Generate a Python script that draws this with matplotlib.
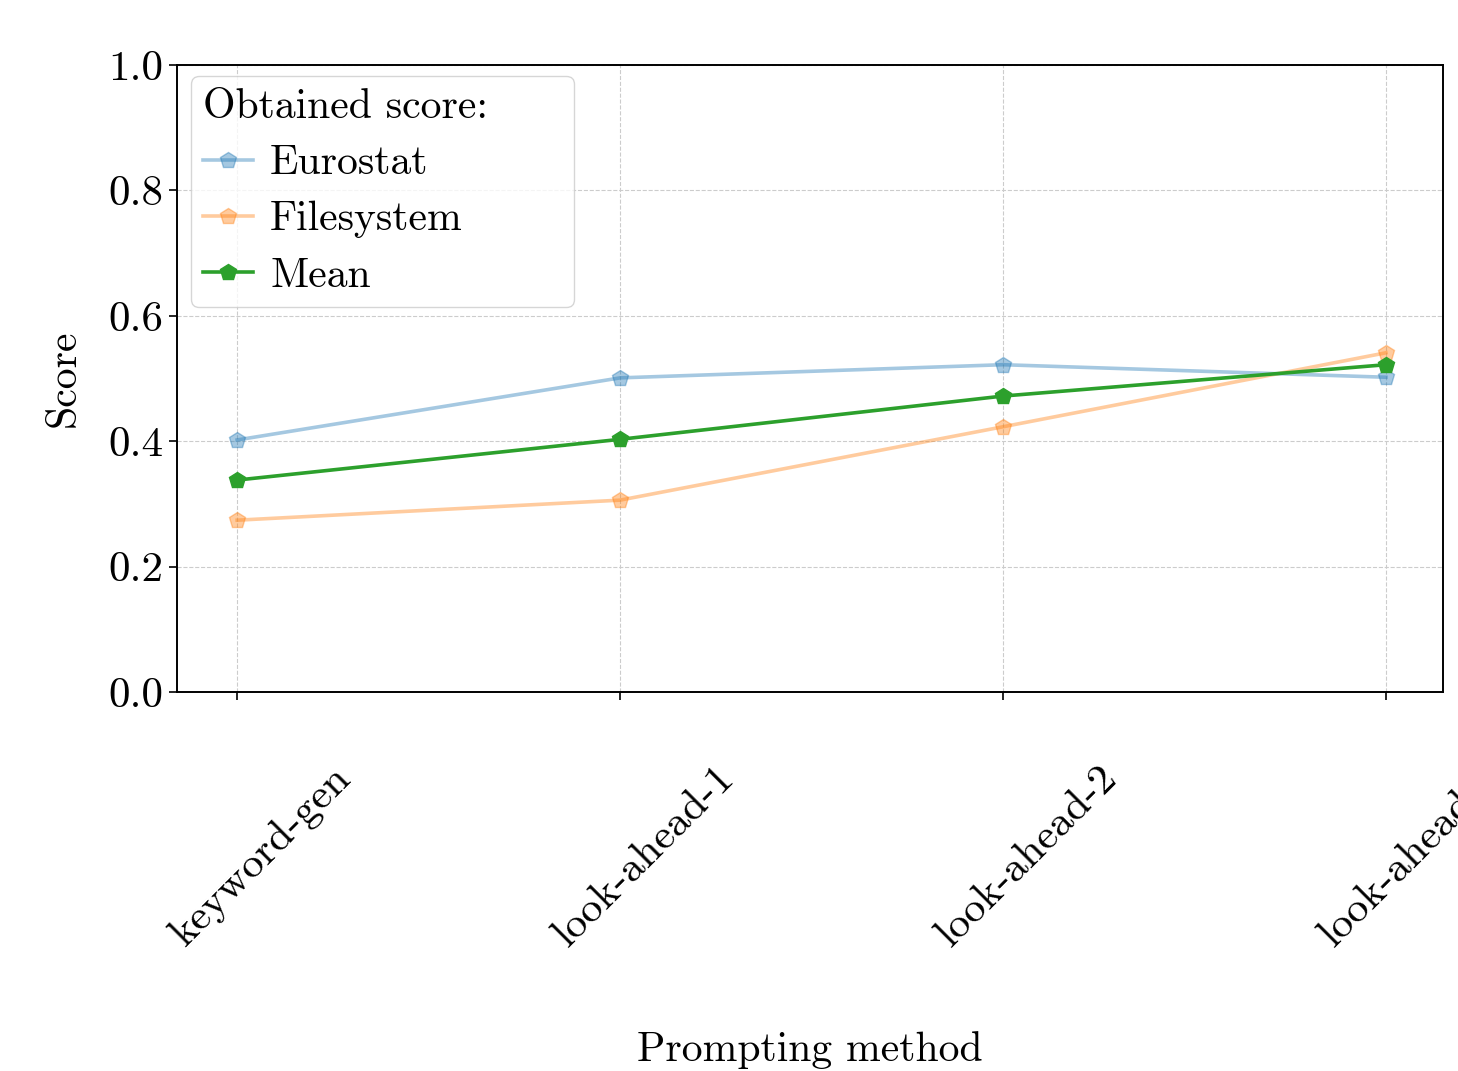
import numpy as np
import matplotlib
matplotlib.use("Agg")
import matplotlib.pyplot as plt
import matplotlib.transforms as mtransforms

plt.rcParams['font.family'] = 'serif'
plt.rcParams['font.serif'] = ['cmr10', 'DejaVu Serif']
plt.rcParams['mathtext.fontset'] = 'cm'
plt.rcParams['axes.formatter.use_mathtext'] = True

# data
metodos = ['keyword-gen', 'look-ahead-1', 'look-ahead-2', 'look-ahead-3']
eurostat = [0.402, 0.501, 0.522, 0.502]
filesystem = [0.274, 0.306, 0.423, 0.541]
media = [0.338, 0.403, 0.472, 0.522]
yticks = [0.0, 0.2, 0.4, 0.6, 0.8, 1.0]

fig = plt.figure(figsize=(14.58, 10.71), dpi=100)
ax = fig.add_axes([177/1458, 1 - 692/1071, (1443 - 177)/1458, (692 - 65)/1071])

x = np.arange(len(metodos))
ax.plot(x, eurostat, marker='p', markersize=12, linewidth=2.6, color='#1f77b4',
        alpha=0.4, label='Eurostat')
ax.plot(x, filesystem, marker='p', markersize=12, linewidth=2.6, color='#ff7f0e',
        alpha=0.4, label='Filesystem')
ax.plot(x, media, marker='p', markersize=12, linewidth=2.6, color='#2ca02c',
        label='Mean')

ax.set_ylim(0, 1)
ax.set_xlim(-0.157, 3.149)
ax.set_yticks(yticks)
ax.set_yticklabels(['%.1f' % v for v in yticks])
ax.set_xticks(x)
ax.set_xticklabels(metodos, rotation=45, ha='center')

ax.tick_params(axis='both', labelsize=31, length=6, width=1.2, pad=4)
ax.tick_params(axis='x', pad=42)
# os rótulos ficam um pouco deslocados para a direita
desloc = mtransforms.ScaledTranslation(24/100, 0, fig.dpi_scale_trans)
for lab in ax.get_xticklabels():
    lab.set_transform(lab.get_transform() + desloc)

for s in ax.spines.values():
    s.set_linewidth(1.4)

ax.grid(True, linestyle='--', linewidth=0.8, color='#cccccc')
ax.set_axisbelow(True)

ax.set_xlabel('Prompting method', fontsize=30, labelpad=56)
ax.set_ylabel('Score', fontsize=30, labelpad=18)

leg = ax.legend(title='Obtained score:', loc='upper left', fontsize=30,
                title_fontsize=30, frameon=True, handlelength=1.2,
                handletextpad=0.4, borderaxespad=0, labelspacing=0.45,
                borderpad=0.3, bbox_to_anchor=(0.011, 0.0, 0.3026, 0.9825),
                mode='expand')
leg._legend_box.align = 'left'

fig.savefig('out.png', dpi=100)
